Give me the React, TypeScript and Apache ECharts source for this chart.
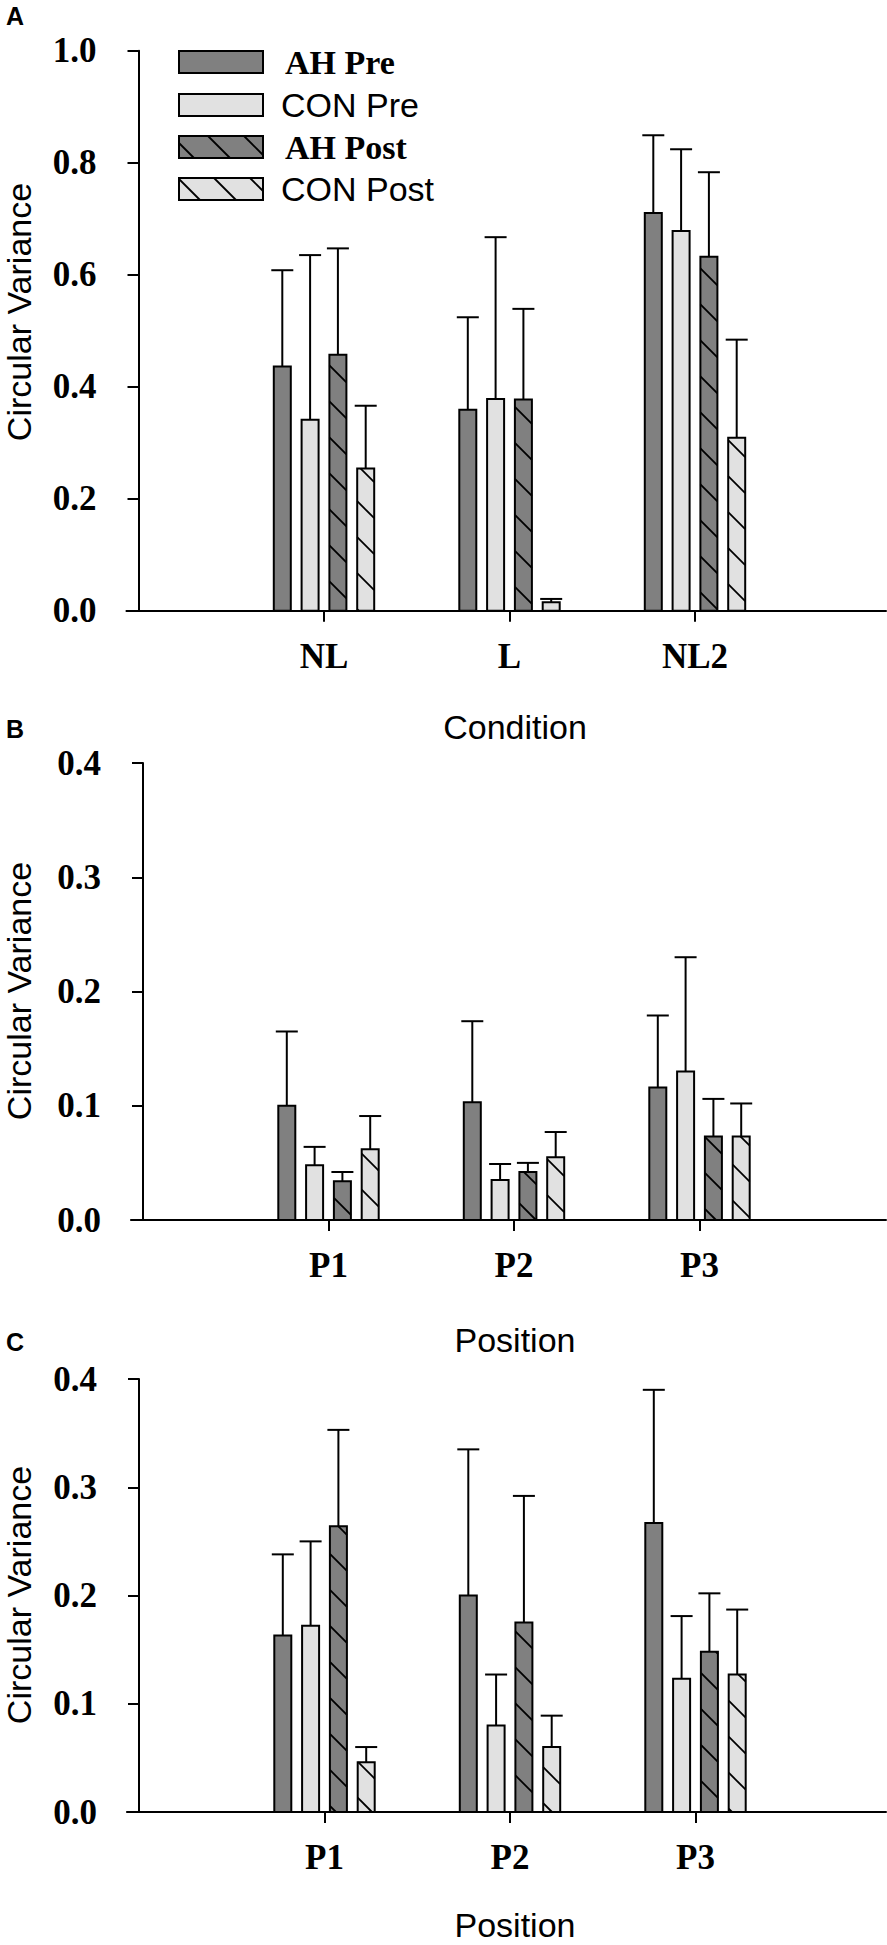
import React, { useEffect, useRef } from 'react';
import * as echarts from 'echarts';

// ---------- data ----------
const conditionCats = ['NL', 'L', 'NL2'];
const positionCats = ['P1', 'P2', 'P3'];
const seriesNames = ['AH Pre', 'CON Pre', 'AH Post', 'CON Post'];

// Panel A (Condition) : means and SD (upper error bar length)
const aAhPre = [0.436, 0.359, 0.71];
const aAhPreSd = [0.172, 0.165, 0.139];
const aConPre = [0.341, 0.378, 0.678];
const aConPreSd = [0.294, 0.289, 0.146];
const aAhPost = [0.457, 0.377, 0.632];
const aAhPostSd = [0.19, 0.162, 0.151];
const aConPost = [0.254, 0.015, 0.309];
const aConPostSd = [0.112, 0.006, 0.175];

// Panel B (Position)
const bAhPre = [0.1, 0.103, 0.116];
const bAhPreSd = [0.065, 0.071, 0.063];
const bConPre = [0.048, 0.035, 0.13];
const bConPreSd = [0.016, 0.014, 0.1];
const bAhPost = [0.034, 0.042, 0.073];
const bAhPostSd = [0.008, 0.008, 0.033];
const bConPost = [0.062, 0.055, 0.073];
const bConPostSd = [0.029, 0.022, 0.029];

// Panel C (Position)
const cAhPre = [0.163, 0.2, 0.267];
const cAhPreSd = [0.075, 0.135, 0.123];
const cConPre = [0.172, 0.08, 0.123];
const cConPreSd = [0.078, 0.047, 0.058];
const cAhPost = [0.264, 0.175, 0.148];
const cAhPostSd = [0.089, 0.117, 0.054];
const cConPost = [0.046, 0.06, 0.127];
const cConPostSd = [0.014, 0.029, 0.06];

const yTitle = 'Circular Variance';

// ---------- style / layout ----------
const W = 887;
const H = 1945;
const UNIT = 185.5; // px per category step
const X_MIN = -0.065;
const RIGHT_EDGE = 886;
const PITCH_U = 27.8 / UNIT;
const BAR_U = 17 / UNIT;
const CAP_U = 22 / UNIT;
const HATCH = 36;
const FILLS = ['#808080', '#e1e1e1', '#808080', '#e1e1e1'];
const HATCHED = [false, false, true, true];
const SERIF = '"Liberation Serif", "Times New Roman", serif';
const SANS = '"Liberation Sans", Arial, sans-serif';

const panels = [
  {
    letter: 'A', cats: conditionCats, title: 'Condition', yMax: 1.0, yStep: 0.2,
    means: [aAhPre, aConPre, aAhPost, aConPost], sds: [aAhPreSd, aConPreSd, aAhPostSd, aConPostSd],
    axisX: 138.5, top: 50.7, bottom: 610.7, letterY: 16, titleY: 727, yTitleY: 312,
  },
  {
    letter: 'B', cats: positionCats, title: 'Position', yMax: 0.4, yStep: 0.1,
    means: [bAhPre, bConPre, bAhPost, bConPost], sds: [bAhPreSd, bConPreSd, bAhPostSd, bConPostSd],
    axisX: 143, top: 763, bottom: 1220, letterY: 729, titleY: 1340, yTitleY: 991,
  },
  {
    letter: 'C', cats: positionCats, title: 'Position', yMax: 0.4, yStep: 0.1,
    means: [cAhPre, cConPre, cAhPost, cConPost], sds: [cAhPreSd, cConPreSd, cAhPostSd, cConPostSd],
    axisX: 139, top: 1379, bottom: 1812, letterY: 1342, titleY: 1925, yTitleY: 1595,
  },
];

function hatchLines(x0: number, y0: number, x1: number, y1: number) {
  // "\" lines: y = x + c
  const out: any[] = [];
  if (y1 - y0 < 1) return out;
  const kMin = Math.ceil((y0 - x1) / HATCH);
  const kMax = Math.floor((y1 - x0) / HATCH);
  for (let k = kMin; k <= kMax; k++) {
    const c = k * HATCH;
    const xs = Math.max(x0, y0 - c);
    const xe = Math.min(x1, y1 - c);
    if (xe - xs > 0.5) {
      out.push({
        type: 'line',
        shape: { x1: xs, y1: xs + c, x2: xe, y2: xe + c },
        style: { stroke: '#000', lineWidth: 1.8 },
        silent: true,
      });
    }
  }
  return out;
}

function buildOption() {
  const grid: any[] = [];
  const xAxis: any[] = [];
  const yAxis: any[] = [];
  const series: any[] = [];
  const graphic: any[] = [];
  const axisLineStyle = { color: '#000', width: 2 };

  panels.forEach((p, pi) => {
    const xMax = (RIGHT_EDGE - p.axisX) / UNIT;
    grid.push({
      left: p.axisX + X_MIN * UNIT,
      top: p.top,
      width: (xMax - X_MIN) * UNIT,
      height: p.bottom - p.top,
      containLabel: false,
    });
    const cats = p.cats;
    xAxis.push({
      type: 'value',
      gridIndex: pi,
      min: X_MIN,
      max: xMax,
      splitLine: { show: false },
      axisLine: { show: true, onZero: true, lineStyle: axisLineStyle },
      axisTick: { show: true, customValues: [1, 2, 3], length: 11, lineStyle: axisLineStyle },
      axisLabel: {
        customValues: [1, 2, 3],
        margin: 28,
        formatter: (v: number) => {
          const i = Math.round(v) - 1;
          return Math.abs(v - Math.round(v)) < 1e-6 && cats[i] ? cats[i] : '';
        },
        fontFamily: SERIF,
        fontWeight: 'bold',
        fontSize: 35,
        color: '#000',
      },
    });
    yAxis.push({
      type: 'value',
      gridIndex: pi,
      min: 0,
      max: p.yMax,
      interval: p.yStep,
      splitLine: { show: false },
      axisLine: { show: true, onZero: true, lineStyle: axisLineStyle },
      axisTick: { show: true, length: 11, lineStyle: axisLineStyle },
      axisLabel: {
        margin: 30,
        formatter: (v: number) => v.toFixed(1),
        fontFamily: SERIF,
        fontWeight: 'bold',
        fontSize: 35,
        color: '#000',
      },
    });

    seriesNames.forEach((name, s) => {
      series.push({
        type: 'custom',
        name,
        xAxisIndex: pi,
        yAxisIndex: pi,
        data: cats.map((_, i) => [i + 1, p.means[s][i], p.sds[s][i]]),
        renderItem: (params: any, api: any) => {
          const cx = api.value(0) + (s - 1.5) * PITCH_U;
          const v = api.value(1);
          const sd = api.value(2);
          const topPt = api.coord([cx, v]);
          const basePt = api.coord([cx, 0]);
          const errPt = api.coord([cx, v + sd]);
          const w = api.size([BAR_U, 0])[0];
          const capW = api.size([CAP_U, 0])[0];
          const x0 = topPt[0] - w / 2;
          const x1 = topPt[0] + w / 2;
          const y0 = topPt[1];
          const y1 = basePt[1];
          const stroke = { stroke: '#000', lineWidth: 2 };
          const children: any[] = [
            { type: 'line', shape: { x1: topPt[0], y1: y0, x2: topPt[0], y2: errPt[1] }, style: stroke },
            { type: 'line', shape: { x1: topPt[0] - capW / 2, y1: errPt[1], x2: topPt[0] + capW / 2, y2: errPt[1] }, style: stroke },
            { type: 'rect', shape: { x: x0, y: y0, width: w, height: y1 - y0 }, style: { fill: FILLS[s] } },
          ];
          if (HATCHED[s]) children.push(...hatchLines(x0, y0, x1, y1));
          children.push({ type: 'rect', shape: { x: x0, y: y0, width: w, height: y1 - y0 }, style: { fill: 'none', stroke: '#000', lineWidth: 2 } });
          return { type: 'group', children };
        },
      });
    });

    // panel letter
    graphic.push({
      type: 'text', x: 6, y: p.letterY,
      style: { text: p.letter, fontFamily: SANS, fontWeight: 'bold', fontSize: 25, fill: '#000', verticalAlign: 'middle', align: 'left' },
    });
    // x title
    graphic.push({
      type: 'text', x: 515, y: p.titleY,
      style: { text: p.title, fontFamily: SANS, fontSize: 34, fill: '#000', verticalAlign: 'middle', align: 'center' },
    });
    // y title
    graphic.push({
      type: 'text', x: 19, y: p.yTitleY, rotation: Math.PI / 2,
      style: { text: yTitle, fontFamily: SANS, fontSize: 34, fill: '#000', verticalAlign: 'middle', align: 'center' },
    });
  });

  // legend (panel A)
  const LEG_X = 179;
  const LEG_W = 84;
  const LEG_H = 22;
  const LEG_TOPS = [51, 94, 136, 178];
  seriesNames.forEach((name, s) => {
    const t = LEG_TOPS[s];
    graphic.push({ type: 'rect', shape: { x: LEG_X, y: t, width: LEG_W, height: LEG_H }, style: { fill: FILLS[s] } });
    if (HATCHED[s]) {
      hatchLines(LEG_X, t, LEG_X + LEG_W, t + LEG_H).forEach((l) => graphic.push(l));
    }
    graphic.push({ type: 'rect', shape: { x: LEG_X, y: t, width: LEG_W, height: LEG_H }, style: { fill: 'none', stroke: '#000', lineWidth: 2 } });
    const isAH = name.startsWith('AH');
    graphic.push({
      type: 'text', x: isAH ? 285 : 281, y: t + LEG_H / 2,
      style: {
        text: name,
        fontFamily: isAH ? SERIF : SANS,
        fontWeight: isAH ? 'bold' : 'normal',
        fontSize: 34,
        fill: '#000',
        verticalAlign: 'middle',
        align: 'left',
      },
    });
  });

  return {
    animation: false,
    backgroundColor: '#fff',
    grid,
    xAxis,
    yAxis,
    series,
    graphic,
  };
}

export default function App() {
  const ref = useRef<HTMLDivElement>(null);
  useEffect(() => {
    document.body.style.margin = '0';
    if (!ref.current) return;
    const chart = echarts.init(ref.current, undefined, { renderer: 'svg', width: W, height: H });
    chart.setOption(buildOption() as any);
    return () => chart.dispose();
  }, []);
  return <div ref={ref} style={{ width: W, height: H }} />;
}
